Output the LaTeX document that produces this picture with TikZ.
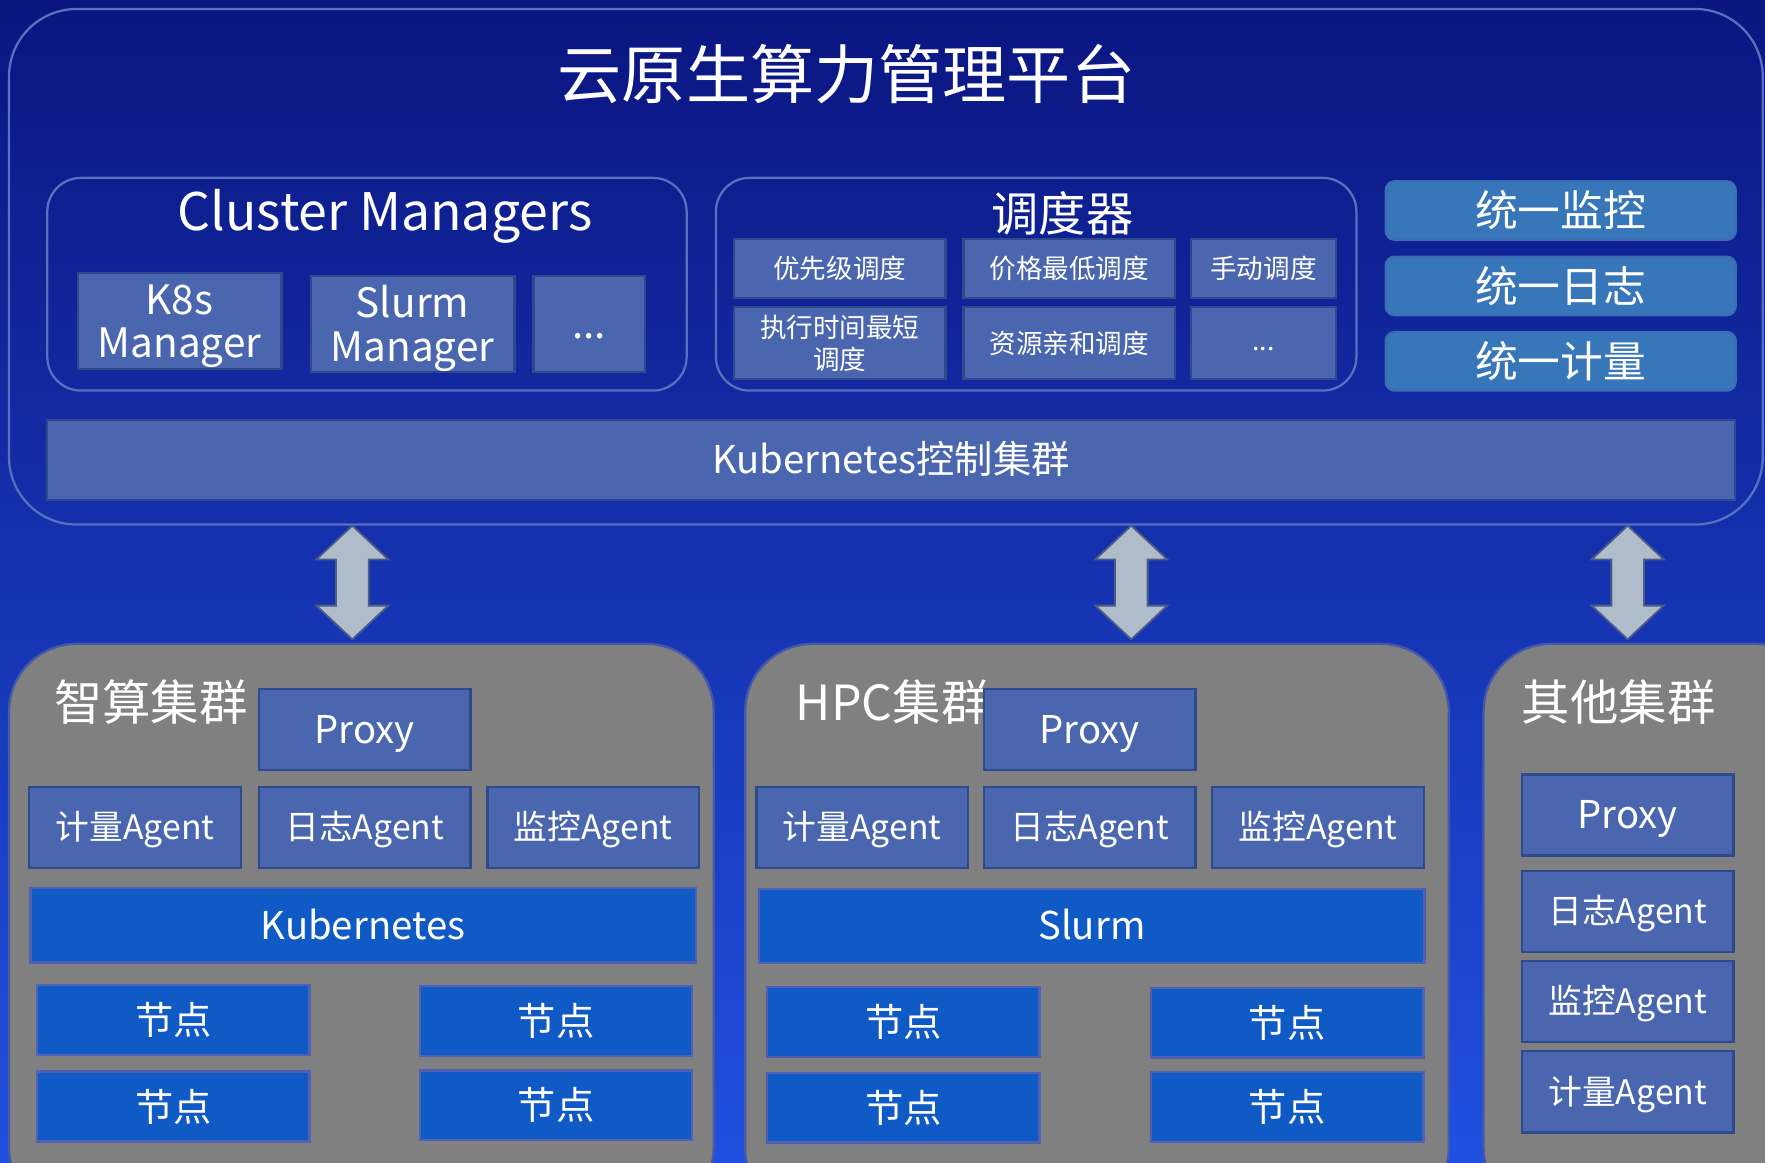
\documentclass[tikz,border=0pt]{standalone}
\usepackage{fontspec}
\setmainfont{Noto Sans CJK SC}
\usetikzlibrary{positioning}
\definecolor{bgtop}{HTML}{0A1580}
\definecolor{bgmid}{HTML}{0C2AAE}
\definecolor{bgbottom}{HTML}{2050E0}
\definecolor{frameline}{HTML}{5672BF}
\definecolor{slate}{HTML}{4A66AE}
\definecolor{slateline}{HTML}{2E4A8C}
\definecolor{bright}{HTML}{105AC6}
\definecolor{brightline}{HTML}{5060B4}
\definecolor{steel}{HTML}{3777B9}
\definecolor{steelline}{HTML}{3F6DB5}
\definecolor{clustergray}{HTML}{808080}
\definecolor{clusterline}{HTML}{4459A8}
\definecolor{arrowfill}{HTML}{B1BCCB}
\definecolor{arrowline}{HTML}{4B5C86}

\begin{document}
\begin{tikzpicture}[
  x=0.5pt, y=-0.5pt,
  every node/.style={text=white},
  oneline/.style 2 args={text height=#1, text depth=#2},
  frame/.style={draw=frameline, line width=1pt, rounded corners=15pt, inner sep=0pt},
  slatebox/.style={draw=slateline, fill=slate, line width=1pt, align=center, inner sep=0pt},
  brightbox/.style={draw=brightline, fill=bright, line width=1pt, align=center, inner sep=0pt},
  mgr/.style={slatebox, minimum width=90.5pt, minimum height=42.5pt, font=\fontsize{18}{19.5}\selectfont},
  policy/.style={slatebox, minimum width=94pt, minimum height=26.5pt, font=\fontsize{11.8}{14}\selectfont},
  unibox/.style={draw=steelline, fill=steel, line width=1pt, rounded corners=4pt, minimum width=155.5pt, minimum height=26pt, font=\fontsize{19}{20}\selectfont},
  cluster/.style={draw=clusterline, fill=clustergray, line width=1pt, rounded corners=30pt, minimum height=254pt},
  clustertitle/.style={font=\fontsize{21.5}{22}\selectfont},
  agent/.style={slatebox, oneline={13.8pt}{3pt}, minimum width=94pt, minimum height=36pt, font=\fontsize{15}{16}\selectfont},
  proxy/.style={agent, oneline={15.6pt}{3.4pt}, font=\fontsize{17}{18}\selectfont},
  stack/.style={brightbox, oneline={15.6pt}{3.4pt}, minimum width=295.5pt, minimum height=33pt, font=\fontsize{17}{18}\selectfont},
  worker/.style={brightbox, minimum width=121pt, minimum height=31pt, font=\fontsize{17}{18}\selectfont},
  duplex/.style={fill=arrowfill, draw=arrowline, line width=0.8pt}
]
\useasboundingbox (0,0) rectangle (1568,1033);
\clip (0,0) rectangle (1568,1033);
\shade[top color=bgtop, middle color=bgmid, bottom color=bgbottom] (0,0) rectangle (1568,1033);

% platform
\node[frame, rounded corners=30pt, minimum width=779pt, minimum height=229pt] (platform) at (787,237) {};
\node[font=\fontsize{28.5}{30}\selectfont] (title) at (752,66) {云原生算力管理平台};

% cluster managers
\node[frame, minimum width=284pt, minimum height=94.5pt] (cmFrame) at (326,252.5) {};
\node[font=\fontsize{23}{24}\selectfont] (cmTitle) at (342,192) {Cluster Managers};
\node[mgr] (k8sMgr) at (159.5,285) {\rule{0pt}{1em}K8s\\Manager};
\node[mgr] (slurmMgr) at (366.5,288) {\rule{0pt}{1em}Slurm\\Manager};
\node[mgr, oneline={16.6pt}{3.6pt}, minimum width=49.5pt] (moreMgr) at (523.5,288) {...};

% scheduler
\node[frame, minimum width=284.5pt, minimum height=94.5pt] (schFrame) at (920.5,252.5) {};
\node[font=\fontsize{21}{22}\selectfont] (schTitle) at (944,190) {调度器};
\node[policy] (prio) at (746,238.5) {优先级调度};
\node[policy] (price) at (950,238.5) {价格最低调度};
\node[policy, minimum width=64.5pt] (manual) at (1122.5,238.5) {手动调度};
\node[policy, minimum height=32pt] (shortest) at (746,305) {执行时间最短\\调度};
\node[policy, minimum height=32pt] (affinity) at (950,305) {资源亲和调度};
\node[policy, oneline={9pt}{2.4pt}, minimum width=64.5pt, minimum height=32pt] (morePolicy) at (1122.5,305) {...};

% unified services
\node[unibox] (uMon) at (1386.5,187) {统一监控};
\node[unibox] (uLog) at (1386.5,254) {统一日志};
\node[unibox] (uMeter) at (1386.5,321) {统一计量};

\node[slatebox, oneline={15.6pt}{3.4pt}, minimum width=749.5pt, minimum height=35.5pt, font=\fontsize{17}{18}\selectfont] (ctrl) at (791.5,408.5) {Kubernetes控制集群};

% links to clusters
\foreach \ax in {313,1005,1446}
  \draw[duplex] (\ax,467) -- (\ax+32,497) -- (\ax+14.5,497) -- (\ax+14.5,538) -- (\ax+32,538)
    -- (\ax,568) -- (\ax-32,538) -- (\ax-14.5,538) -- (\ax-14.5,497) -- (\ax-32,497) -- cycle;

% AI cluster
\node[cluster, minimum width=313pt] (aiCluster) at (321,826) {};
\node[clustertitle] (aiTitle) at (134,624) {智算集群};
\node[agent] (aiLog) at (324,735) {日志Agent};
\node[agent, left=7pt of aiLog] (aiMeter) {计量Agent};
\node[agent, right=6.5pt of aiLog] (aiMon) {监控Agent};
\node[proxy, above=6.5pt of aiLog] (aiProxy) {Proxy};
\node[stack] (aiK8s) at (322.5,822) {Kubernetes};
\node[worker] (aiNodeA) at (154,906) {节点};
\node[worker] (aiNodeB) at (494,907) {节点};
\node[worker, below=6.5pt of aiNodeA] (aiNodeC) {节点};
\node[worker, below=5.5pt of aiNodeB] (aiNodeD) {节点};

% HPC cluster
\node[cluster, minimum width=312.5pt] (hpcCluster) at (974.5,826) {};
\node[clustertitle] (hpcTitle) at (793,624) {HPC集群};
\node[agent] (hpcLog) at (968,735) {日志Agent};
\node[agent, left=6pt of hpcLog] (hpcMeter) {计量Agent};
\node[agent, right=6.5pt of hpcLog] (hpcMon) {监控Agent};
\node[proxy, above=6.5pt of hpcLog] (hpcProxy) {Proxy};
\node[stack] (hpcSlurm) at (970,822.5) {Slurm};
\node[worker] (hpcNodeA) at (802.5,908) {节点};
\node[worker] (hpcNodeB) at (1143.5,908.5) {节点};
\node[worker, below=6pt of hpcNodeA] (hpcNodeC) {节点};
\node[worker, below=5.5pt of hpcNodeB] (hpcNodeD) {节点};

% other clusters
\node[cluster, minimum width=151pt] (otherCluster) at (1469,826) {};
\node[clustertitle] (otherTitle) at (1438,624) {其他集群};
\node[proxy] (otherProxy) at (1446,724) {Proxy};
\node[agent, below=6pt of otherProxy] (otherLog) {日志Agent};
\node[agent, below=3pt of otherLog] (otherMon) {监控Agent};
\node[agent, below=3pt of otherMon] (otherMeter) {计量Agent};
\end{tikzpicture}
\end{document}
